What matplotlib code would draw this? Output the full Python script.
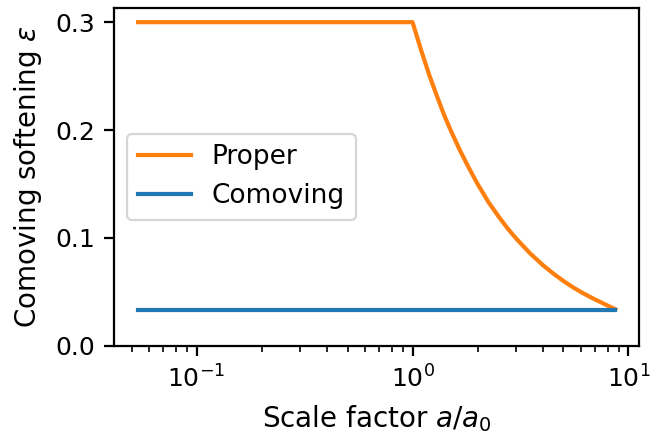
import matplotlib
matplotlib.use('Agg')
import matplotlib.pyplot as plt

# scale factor samples
a_proper = [0.0536, 0.2, 0.5, 1.0, 1.1, 1.2, 1.3, 1.4, 1.5, 1.65, 1.8, 2.0,
            2.25, 2.5, 2.75, 3.0, 3.5, 4.0, 4.5, 5.0, 5.5, 6.0, 6.5, 7.0,
            7.5, 8.0, 8.7]
eps_proper = [0.3, 0.3, 0.3, 0.3, 0.273, 0.25, 0.231, 0.214, 0.2, 0.182,
              0.167, 0.15, 0.133, 0.12, 0.109, 0.1, 0.0857, 0.075, 0.0667,
              0.06, 0.0545, 0.05, 0.0462, 0.0429, 0.04, 0.0372, 0.0338]

a_comoving = [0.0536, 8.7]
eps_comoving = [0.0334, 0.0334]

plt.rcParams['font.size'] = 18
plt.rcParams['xtick.labelsize'] = 18
plt.rcParams['ytick.labelsize'] = 18
plt.rcParams['axes.linewidth'] = 1.6
for ax_name in ('xtick', 'ytick'):
    plt.rcParams[ax_name + '.major.size'] = 7
    plt.rcParams[ax_name + '.major.width'] = 1.6
    plt.rcParams[ax_name + '.minor.size'] = 4
    plt.rcParams[ax_name + '.minor.width'] = 1.2
    plt.rcParams[ax_name + '.major.pad'] = 7
    plt.rcParams[ax_name + '.minor.pad'] = 7
plt.rcParams['legend.framealpha'] = 0.8
plt.rcParams['patch.linewidth'] = 1.6

fig = plt.figure(figsize=(6.68, 4.33), dpi=100)
ax = fig.add_axes([0.171, 0.2016, 0.786, 0.7804])

ax.plot(a_proper, eps_proper, color='#ff7f0e', lw=3, label='Proper')
ax.plot(a_comoving, eps_comoving, color='#1f77b4', lw=3, label='Comoving')
ax.set_xscale('log')
ax.set_ylim(bottom=0)
ax.set_yticks([0.0, 0.1, 0.2, 0.3])

ax.set_xlabel('Scale factor $a/a_0$', fontsize=20, labelpad=8)
ax.set_ylabel(r'Comoving softening $\epsilon$', fontsize=20, labelpad=8)
ax.legend(loc='center left', fontsize=19)

fig.savefig('out.png', dpi=100)
